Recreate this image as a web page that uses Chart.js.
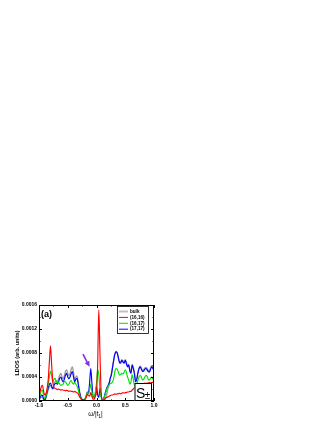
<!DOCTYPE html>
<html>
<head>
<meta charset="utf-8">
<script src="https://cdn.jsdelivr.net/npm/chart.js@4.4.0/dist/chart.umd.min.js"></script>
<style>
html, body { margin: 0; padding: 0; background: #fff; }
canvas { display: block; }
</style>
</head>
<body>
<canvas id="ldos" width="332" height="430"></canvas>
<script>
// energy axis, omega/|t1|
const omega = [
  -1.00, -0.98, -0.96, -0.94, -0.92, -0.90, -0.88, -0.86, -0.84, -0.82,
  -0.80, -0.78, -0.76, -0.74, -0.72, -0.70, -0.68, -0.66, -0.64, -0.62,
  -0.60, -0.58, -0.56, -0.54, -0.52, -0.50, -0.48, -0.46, -0.44, -0.42,
  -0.40, -0.38, -0.36, -0.34, -0.32, -0.30, -0.28, -0.26, -0.24, -0.22,
  -0.20, -0.18, -0.16, -0.14, -0.12, -0.10, -0.08, -0.06, -0.04, -0.02,
   0.00,  0.02,  0.04,  0.06,  0.08,  0.10,  0.12,  0.14,  0.16,  0.18,
   0.20,  0.22,  0.24,  0.26,  0.28,  0.30,  0.32,  0.34,  0.36,  0.38,
   0.40,  0.42,  0.44,  0.46,  0.48,  0.50,  0.52,  0.54,  0.56,  0.58,
   0.60,  0.62,  0.64,  0.66,  0.68,  0.70,  0.72,  0.74,  0.76,  0.78,
   0.80,  0.82,  0.84,  0.86,  0.88,  0.90,  0.92,  0.94,  0.96,  0.98,
   1.00
];

const bulk = [
  0.00002, 0.00004, 0.00007, 0.00006, 0.00002, 0.00001, 0.00004, 0.00012, 0.00018, 0.00024,
  0.00026, 0.00022, 0.00022, 0.00029, 0.00032, 0.00034, 0.00032, 0.00037, 0.00043, 0.00046,
  0.00040, 0.00037, 0.00042, 0.00049, 0.00052, 0.00046, 0.00042, 0.00046, 0.00053, 0.00057,
  0.00048, 0.00036, 0.00040, 0.00042, 0.00032, 0.00016, 0.00006, 0.00002, 0.00001, 0.000005,
  0.000005, 0.000005, 0.000005, 0.000005, 0.000005, 0.000005, 0.000005, 0.000005, 0.000005, 0.000005,
  0.000005, 0.000005, 0.000005, 0.000005, 0.000005, 0.000005, 0.00001, 0.00002, 0.00005, 0.00012,
  0.00021, 0.00028, 0.00038, 0.00046, 0.00058, 0.00070, 0.00079, 0.00083, 0.00081, 0.00073,
  0.00066, 0.00065, 0.00069, 0.00067, 0.00065, 0.00069, 0.00064, 0.00059, 0.00061, 0.00052,
  0.00048, 0.00061, 0.00056, 0.00047, 0.00034, 0.00038, 0.00048, 0.00055, 0.00058, 0.00055,
  0.00051, 0.00052, 0.00055, 0.00056, 0.00054, 0.00051, 0.00050, 0.00055, 0.00059, 0.00056,
  0.00054
];

const dos1616 = [
  0.00010, 0.00016, 0.00024, 0.00026, 0.00016, 0.00010, 0.00012, 0.00020, 0.00035, 0.00065,
  0.00092, 0.00060, 0.00032, 0.00023, 0.00021, 0.00020, 0.00019, 0.00020, 0.00019, 0.00018,
  0.00019, 0.00018, 0.00018, 0.00017, 0.00018, 0.00017, 0.00016, 0.00017, 0.00016, 0.00016,
  0.00015, 0.00016, 0.00015, 0.00014, 0.00012, 0.00008, 0.00005, 0.00003, 0.00002, 0.00002,
  0.00003, 0.00006, 0.00011, 0.00009, 0.00008, 0.00014, 0.00008, 0.00003, 0.00003, 0.00008,
  0.00015, 0.00060, 0.00152, 0.00080, 0.00015, 0.00002, 0.00001, 0.00003, 0.00005, 0.00006,
  0.00007, 0.00008, 0.00009, 0.00010, 0.00010, 0.00011, 0.00012, 0.00011, 0.00012, 0.00012,
  0.00013, 0.00012, 0.00013, 0.00014, 0.00013, 0.00014, 0.00014, 0.00015, 0.00015, 0.00016,
  0.00016, 0.00018, 0.00020, 0.00022, 0.00024, 0.00026, 0.00027, 0.00028, 0.00028, 0.00029,
  0.00028, 0.00029, 0.00030, 0.00029, 0.00030, 0.00030, 0.00031, 0.00030, 0.00031, 0.00031,
  0.00032
];

const dos1617 = [
  0.00005, 0.00010, 0.00017, 0.00018, 0.00009, 0.00004, 0.00008, 0.00018, 0.00028, 0.00040,
  0.00050, 0.00042, 0.00032, 0.00036, 0.00038, 0.00032, 0.00030, 0.00032, 0.00028, 0.00026,
  0.00027, 0.00028, 0.00033, 0.00032, 0.00029, 0.00026, 0.00028, 0.00032, 0.00034, 0.00030,
  0.00028, 0.00031, 0.00028, 0.00025, 0.00020, 0.00012, 0.00006, 0.00003, 0.00002, 0.00002,
  0.00004, 0.00009, 0.00014, 0.00012, 0.00018, 0.00028, 0.00016, 0.00006, 0.00005, 0.00015,
  0.00030, 0.00052, 0.00045, 0.00020, 0.00006, 0.00002, 0.00003, 0.00008, 0.00014, 0.00020,
  0.00024, 0.00027, 0.00029, 0.00030, 0.00032, 0.00038, 0.00050, 0.00054, 0.00053, 0.00048,
  0.00043, 0.00044, 0.00046, 0.00045, 0.00048, 0.00052, 0.00048, 0.00040, 0.00035, 0.00028,
  0.00032, 0.00044, 0.00036, 0.00026, 0.00020, 0.00028, 0.00035, 0.00040, 0.00043, 0.00040,
  0.00035, 0.00036, 0.00040, 0.00043, 0.00041, 0.00036, 0.00035, 0.00038, 0.00040, 0.00037,
  0.00035
];

const dos1717 = [
  0.00003, 0.00006, 0.00010, 0.00009, 0.00004, 0.00002, 0.00006, 0.00015, 0.00022, 0.00028,
  0.00030, 0.00024, 0.00020, 0.00026, 0.00029, 0.00030, 0.00028, 0.00032, 0.00038, 0.00040,
  0.00035, 0.00032, 0.00036, 0.00043, 0.00046, 0.00040, 0.00037, 0.00040, 0.00046, 0.00049,
  0.00040, 0.00032, 0.00036, 0.00038, 0.00030, 0.00018, 0.00009, 0.00004, 0.00002, 0.00002,
  0.00003, 0.00008, 0.00015, 0.00014, 0.00030, 0.00054, 0.00030, 0.00008, 0.00005, 0.00012,
  0.00024, 0.00010, 0.00006, 0.00021, 0.00010, 0.00002, 0.00003, 0.00009, 0.00016, 0.00022,
  0.00026, 0.00030, 0.00038, 0.00044, 0.00056, 0.00068, 0.00078, 0.00082, 0.00080, 0.00072,
  0.00064, 0.00063, 0.00068, 0.00065, 0.00063, 0.00068, 0.00062, 0.00057, 0.00060, 0.00050,
  0.00046, 0.00060, 0.00054, 0.00045, 0.00032, 0.00036, 0.00046, 0.00054, 0.00057, 0.00053,
  0.00049, 0.00050, 0.00053, 0.00054, 0.00052, 0.00049, 0.00048, 0.00053, 0.00057, 0.00054,
  0.00052
];

const seriesNames = ["bulk", "(16,16)", "(16,17)", "(17,17)"];
const xTicks = [-1.0, -0.5, 0.0, 0.5, 1.0];
const yTicks = [0.0000, 0.0004, 0.0008, 0.0012, 0.0016];

// purple arrow pointing at the blue peak (data coordinates)
const arrowFrom = { x: -0.235, y: 0.00078 };
const arrowTo = { x: -0.12, y: 0.00057 };

const FONT = "'Liberation Sans', Arial, sans-serif";

function pts(arr) {
  return omega.map((w, i) => ({ x: w, y: arr[i] }));
}

const decor = {
  id: 'decor',
  afterDatasetsDraw(chart) {
    const ctx = chart.ctx;
    const a = chart.chartArea;
    const sx = chart.scales.x, sy = chart.scales.y;
    ctx.save();

    // frame
    ctx.strokeStyle = '#000';
    ctx.lineWidth = 1;
    ctx.strokeRect(Math.round(a.left) + 0.5, Math.round(a.top) + 0.5,
      Math.round(a.right - a.left) - 1, Math.round(a.bottom - a.top) - 1);

    // inward ticks, major + minor, on all four sides
    ctx.beginPath();
    for (let i = 0; i < xTicks.length; i++) {
      const px = Math.round(sx.getPixelForValue(xTicks[i])) + 0.5;
      ctx.moveTo(px, a.bottom); ctx.lineTo(px, a.bottom - 3);
      ctx.moveTo(px, a.top); ctx.lineTo(px, a.top + 3);
      if (i < xTicks.length - 1) {
        const pm = Math.round(sx.getPixelForValue((xTicks[i] + xTicks[i + 1]) / 2)) + 0.5;
        ctx.moveTo(pm, a.bottom); ctx.lineTo(pm, a.bottom - 1.5);
        ctx.moveTo(pm, a.top); ctx.lineTo(pm, a.top + 1.5);
      }
    }
    for (let i = 0; i < yTicks.length; i++) {
      const py = Math.round(sy.getPixelForValue(yTicks[i])) + 0.5;
      ctx.moveTo(a.left, py); ctx.lineTo(a.left + 3, py);
      ctx.moveTo(a.right, py); ctx.lineTo(a.right - 3, py);
      if (i < yTicks.length - 1) {
        const pm = Math.round(sy.getPixelForValue((yTicks[i] + yTicks[i + 1]) / 2)) + 0.5;
        ctx.moveTo(a.left, pm); ctx.lineTo(a.left + 1.5, pm);
        ctx.moveTo(a.right, pm); ctx.lineTo(a.right - 1.5, pm);
      }
    }
    ctx.stroke();

    // legend box
    const lx = a.right - 37, ly = a.top + 1, lw = 31, lh = 27;
    ctx.fillStyle = '#fff';
    ctx.fillRect(lx, ly, lw, lh);
    ctx.strokeStyle = '#000';
    ctx.lineWidth = 0.8;
    ctx.strokeRect(lx + 0.5, ly + 0.5, lw, lh);
    ctx.font = 'bold 4.6px ' + FONT;
    ctx.textBaseline = 'middle';
    ctx.textAlign = 'left';
    chart.data.datasets.forEach((ds, i) => {
      const ry = ly + 5.5 + i * 5.9;
      ctx.strokeStyle = i === 0 ? '#c0c0c0' : ds.borderColor;
      ctx.lineWidth = i === 0 ? 2 : 1;
      ctx.beginPath();
      ctx.moveTo(lx + 2, ry); ctx.lineTo(lx + 11, ry);
      ctx.stroke();
      ctx.fillStyle = '#000';
      ctx.fillText(ds.label, lx + 13, ry);
    });

    // S± box
    const bx = a.right - 19.5, by = a.bottom - 18, bw = 16.5, bh = 18;
    ctx.fillStyle = '#fff';
    ctx.fillRect(bx, by, bw, bh);
    ctx.strokeStyle = '#000';
    ctx.lineWidth = 1;
    ctx.strokeRect(bx + 0.5, by + 0.5, bw, bh - 1);
    ctx.fillStyle = '#000';
    ctx.textBaseline = 'alphabetic';
    ctx.font = '14px ' + FONT;
    ctx.fillText('S', bx + 1.5, by + 15);
    ctx.font = '10px ' + FONT;
    ctx.fillText('±', bx + 10.2, by + 16);

    // panel label
    ctx.font = 'bold 9px ' + FONT;
    ctx.fillText('(a)', a.left + 2, a.top + 12);

    // arrow
    const x0 = sx.getPixelForValue(arrowFrom.x), y0 = sy.getPixelForValue(arrowFrom.y);
    const x1 = sx.getPixelForValue(arrowTo.x), y1 = sy.getPixelForValue(arrowTo.y);
    const ang = Math.atan2(y1 - y0, x1 - x0);
    ctx.strokeStyle = '#8a2be2';
    ctx.fillStyle = '#8a2be2';
    ctx.lineWidth = 1.6;
    ctx.beginPath();
    ctx.moveTo(x0, y0);
    ctx.lineTo(x1 - 4 * Math.cos(ang), y1 - 4 * Math.sin(ang));
    ctx.stroke();
    ctx.beginPath();
    ctx.moveTo(x1, y1);
    ctx.lineTo(x1 - 5.5 * Math.cos(ang) + 2.6 * Math.sin(ang), y1 - 5.5 * Math.sin(ang) - 2.6 * Math.cos(ang));
    ctx.lineTo(x1 - 5.5 * Math.cos(ang) - 2.6 * Math.sin(ang), y1 - 5.5 * Math.sin(ang) + 2.6 * Math.cos(ang));
    ctx.closePath();
    ctx.fill();

    // axis titles
    ctx.fillStyle = '#000';
    ctx.font = 'bold 5.5px ' + FONT;
    ctx.textAlign = 'center';
    ctx.textBaseline = 'middle';
    ctx.save();
    ctx.translate(a.left - 22, (a.top + a.bottom) / 2);
    ctx.rotate(-Math.PI / 2);
    ctx.fillText('LDOS (arb. units)', 0, 0);
    ctx.restore();

    const cx = (a.left + a.right) / 2 - 1, ty = a.bottom + 15;
    ctx.textAlign = 'left';
    ctx.textBaseline = 'alphabetic';
    ctx.font = '6.5px ' + FONT;
    const p1 = 'ω/|t', p3 = '|';
    const w1 = ctx.measureText(p1).width;
    ctx.font = '4.5px ' + FONT;
    const w2 = ctx.measureText('1').width;
    ctx.font = '6.5px ' + FONT;
    const w3 = ctx.measureText(p3).width;
    let tx = cx - (w1 + w2 + w3) / 2;
    ctx.fillText(p1, tx, ty);
    ctx.font = '4.5px ' + FONT;
    ctx.fillText('1', tx + w1, ty + 1.5);
    ctx.font = '6.5px ' + FONT;
    ctx.fillText(p3, tx + w1 + w2, ty);

    ctx.restore();
  }
};

const colors = ['#9a9a9a', '#ff0000', '#00e000', '#0000ff'];
const series = [bulk, dos1616, dos1617, dos1717];
const drawOrder = [4, 1, 2, 3];

new Chart(document.getElementById('ldos'), {
  type: 'line',
  data: {
    datasets: series.map((s, i) => ({
      label: seriesNames[i],
      data: pts(s),
      borderColor: colors[i],
      borderWidth: i === 0 ? 1.3 : 1.15,
      pointRadius: 0,
      fill: false,
      tension: 0,
      cubicInterpolationMode: 'monotone',
      order: drawOrder[i]
    }))
  },
  options: {
    responsive: false,
    animation: false,
    devicePixelRatio: 1,
    layout: { padding: { left: 0, top: 305, right: 178, bottom: 9 } },
    plugins: { legend: { display: false }, tooltip: { enabled: false } },
    scales: {
      x: {
        type: 'linear',
        min: -1, max: 1,
        afterBuildTicks(scale) { scale.ticks = xTicks.map(v => ({ value: v })); },
        afterFit(scale) { scale.height = 20; },
        grid: { display: false, drawTicks: false },
        border: { display: false },
        ticks: {
          padding: 2,
          color: '#000',
          maxRotation: 0,
          font: { family: FONT, size: 5, weight: 'bold' },
          callback: v => v.toFixed(1)
        }
      },
      y: {
        min: 0, max: 0.0016,
        afterBuildTicks(scale) { scale.ticks = yTicks.map(v => ({ value: v })); },
        afterFit(scale) { scale.width = 39; },
        grid: { display: false, drawTicks: false },
        border: { display: false },
        ticks: {
          padding: 2,
          color: '#000',
          font: { family: FONT, size: 5, weight: 'bold' },
          callback: v => v.toFixed(4)
        }
      }
    }
  },
  plugins: [decor]
});
</script>
</body>
</html>
